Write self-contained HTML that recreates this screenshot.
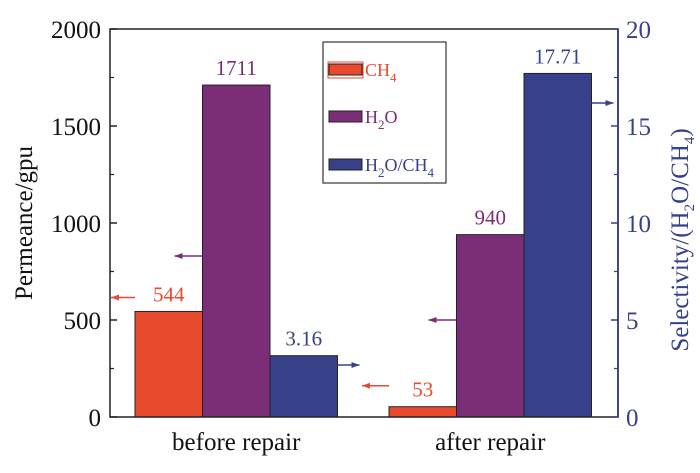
<!DOCTYPE html>
<html><head><meta charset="utf-8"><style>
body{margin:0;background:#fff;}
svg text{font-family:"Liberation Serif",serif;}
</style></head><body>
<svg width="700" height="468" viewBox="0 0 700 468" xmlns="http://www.w3.org/2000/svg">
<g id="plot"></g>
</svg>
<script>
const groups = ["before repair", "after repair"];
const ch4 = [544, 53];
const h2o = [1711, 940];
const sel = [3.16, 17.71];
const ch4Labels = ["544", "53"];
const h2oLabels = ["1711", "940"];
const selLabels = ["3.16", "17.71"];
const leftTicks = [0, 500, 1000, 1500, 2000];
const rightTicks = [0, 5, 10, 15, 20];

const NS = "http://www.w3.org/2000/svg";
const g = document.getElementById('plot');
const X0 = 110, X1 = 618, Y0 = 417, Y1 = 29;
const yL = v => Y0 - (v / 2000) * (Y0 - Y1);
const yR = v => Y0 - (v / 20) * (Y0 - Y1);
const groupStart = i => 135 + i * 254;
const BW = 67.5;
const C = {ch4: "#e84a2e", h2o: "#7b2d78", sel: "#37418a"};

function el(tag, attrs, name, text) {
  const e = document.createElementNS(NS, tag);
  for (const k in attrs) e.setAttribute(k, attrs[k]);
  
  
  if (text !== undefined) e.textContent = text;
  g.appendChild(e);
  return e;
}
function arrow(x1, x2, y, col, name) {
  el('line', {x1: x1, y1: y, x2: x2, y2: y, stroke: col, 'stroke-width': 1.5}, name);
  const d = x2 < x1 ? 1 : -1;
  el('polygon', {points: `${x2},${y} ${x2 + d * 8},${y - 3} ${x2 + d * 8},${y + 3}`, fill: col}, name + '-head');
}

groups.forEach((grp, i) => {
  const s = groupStart(i);
  const vals = [[ch4[i], yL, C.ch4, ch4Labels[i], 'ch4'], [h2o[i], yL, C.h2o, h2oLabels[i], 'h2o'], [sel[i], yR, C.sel, selLabels[i], 'selectivity']];
  vals.forEach((v, j) => {
    const x = s + j * BW, y = v[1](v[0]);
    el('rect', {x: x, y: y, width: BW, height: Y0 - y, fill: v[2], stroke: '#222', 'stroke-width': 1}, 'bar-' + v[4] + '-' + (i ? 'after' : 'before'));
    el('text', {x: x + BW / 2, y: y - 10, 'text-anchor': 'middle', 'font-size': 21, fill: v[2]}, 'value-label-' + v[4] + '-' + (i ? 'after' : 'before'), v[3]);
  });
  const cx = s + BW * 1.5;
  el('text', {x: cx, y: 450, 'text-anchor': 'middle', 'font-size': 25, fill: '#111'}, 'x-category-label', grp);
  // arrows
  const yc = v => v[1] !== undefined ? 0 : 0;
  arrow(s, s - 24 - (i ? 3 : 0), yL(ch4[i]) - 14 - (i ? 7 : 0) + (i ? 0 : 0), C.ch4, 'arrow-ch4');
  arrow(s + BW, s + BW - 28, yL(h2o[i]) - (i ? -10 : -20) + (i ? 0 : 0) + (i ? 0 : 0) * 0 + (i ? yL(h2o[i]) * 0 : 0) + (i ? 0 : 0) + (i ? 0 : 0) + (i ? (290 - yL(h2o[i]) + 10) : (196 - yL(h2o[i]) + 20)) - (i ? -10 : -20), C.h2o, 'arrow-h2o');
  arrow(s + BW * 3, s + BW * 3 + 22, yR(sel[i]) + (i ? 103 - yR(sel[i]) : 365 - yR(sel[i])), C.sel, 'arrow-selectivity');
});

// axes
el('rect', {x: X0, y: Y1, width: X1 - X0, height: Y0 - Y1, fill: 'none', stroke: '#222', 'stroke-width': 1.5}, 'plot-frame');
el('line', {x1: X1, y1: Y1, x2: X1, y2: Y0, stroke: C.sel, 'stroke-width': 1.8}, 'right-axis-line');
leftTicks.forEach((t, k) => {
  const y = yL(t);
  el('line', {x1: X0, y1: y, x2: X0 + 7, y2: y, stroke: '#222', 'stroke-width': 1.5}, 'left-tick');
  if (k < leftTicks.length - 1) { const ym = yL(t + 250); el('line', {x1: X0, y1: ym, x2: X0 + 4, y2: ym, stroke: '#222', 'stroke-width': 1.2}, 'left-minor-tick'); }
  el('text', {x: X0 - 9, y: y + 9, 'text-anchor': 'end', 'font-size': 25, fill: '#111'}, 'left-tick-label', String(t));
});
rightTicks.forEach((t, k) => {
  const y = yR(t);
  el('line', {x1: X1, y1: y, x2: X1 - 7, y2: y, stroke: C.sel, 'stroke-width': 1.5}, 'right-tick');
  if (k < rightTicks.length - 1) { const ym = yR(t + 2.5); el('line', {x1: X1, y1: ym, x2: X1 - 4, y2: ym, stroke: C.sel, 'stroke-width': 1.2}, 'right-minor-tick'); }
  el('text', {x: X1 + 8, y: y + 9, 'text-anchor': 'start', 'font-size': 25, fill: C.sel}, 'right-tick-label', String(t));
});
const lt = el('text', {x: 0, y: 0, 'text-anchor': 'middle', 'font-size': 25, fill: '#111', transform: 'translate(32,223) rotate(-90)'}, 'left-axis-title', 'Permeance/gpu');
const rt = el('text', {x: 0, y: 0, 'text-anchor': 'middle', 'font-size': 25, fill: C.sel, transform: 'translate(688,240) rotate(-90)'}, 'right-axis-title');
rt.innerHTML = 'Selectivity/(H<tspan font-size="15" dy="6">2</tspan><tspan dy="-6">O/CH</tspan><tspan font-size="15" dy="6">4</tspan><tspan dy="-6">)</tspan>';

// legend
el('rect', {x: 323, y: 42, width: 123, height: 141, fill: '#fff', stroke: '#333', 'stroke-width': 1.2}, 'legend-box');
const leg = [[C.ch4, 'CH<tspan font-size="13" dy="6">4</tspan>', 70], [C.h2o, 'H<tspan font-size="13" dy="6">2</tspan><tspan dy="-6">O</tspan>', 117], [C.sel, 'H<tspan font-size="13" dy="6">2</tspan><tspan dy="-6">O/CH</tspan><tspan font-size="13" dy="6">4</tspan>', 165]];
leg.forEach((l, k) => {
  if (k === 0) el('rect', {x: 328, y: l[2] - 8, width: 35, height: 16, fill: 'none', stroke: C.ch4, 'stroke-width': 1}, 'legend-highlight');
  el('rect', {x: 329, y: l[2] - 6, width: 33, height: 11, fill: l[0], stroke: '#222', 'stroke-width': 1}, 'legend-swatch');
  const t = el('text', {x: 365, y: l[2] + 6, 'font-size': 18, fill: l[0]}, 'legend-entry');
  t.innerHTML = l[1];
});
</script>
</body></html>
